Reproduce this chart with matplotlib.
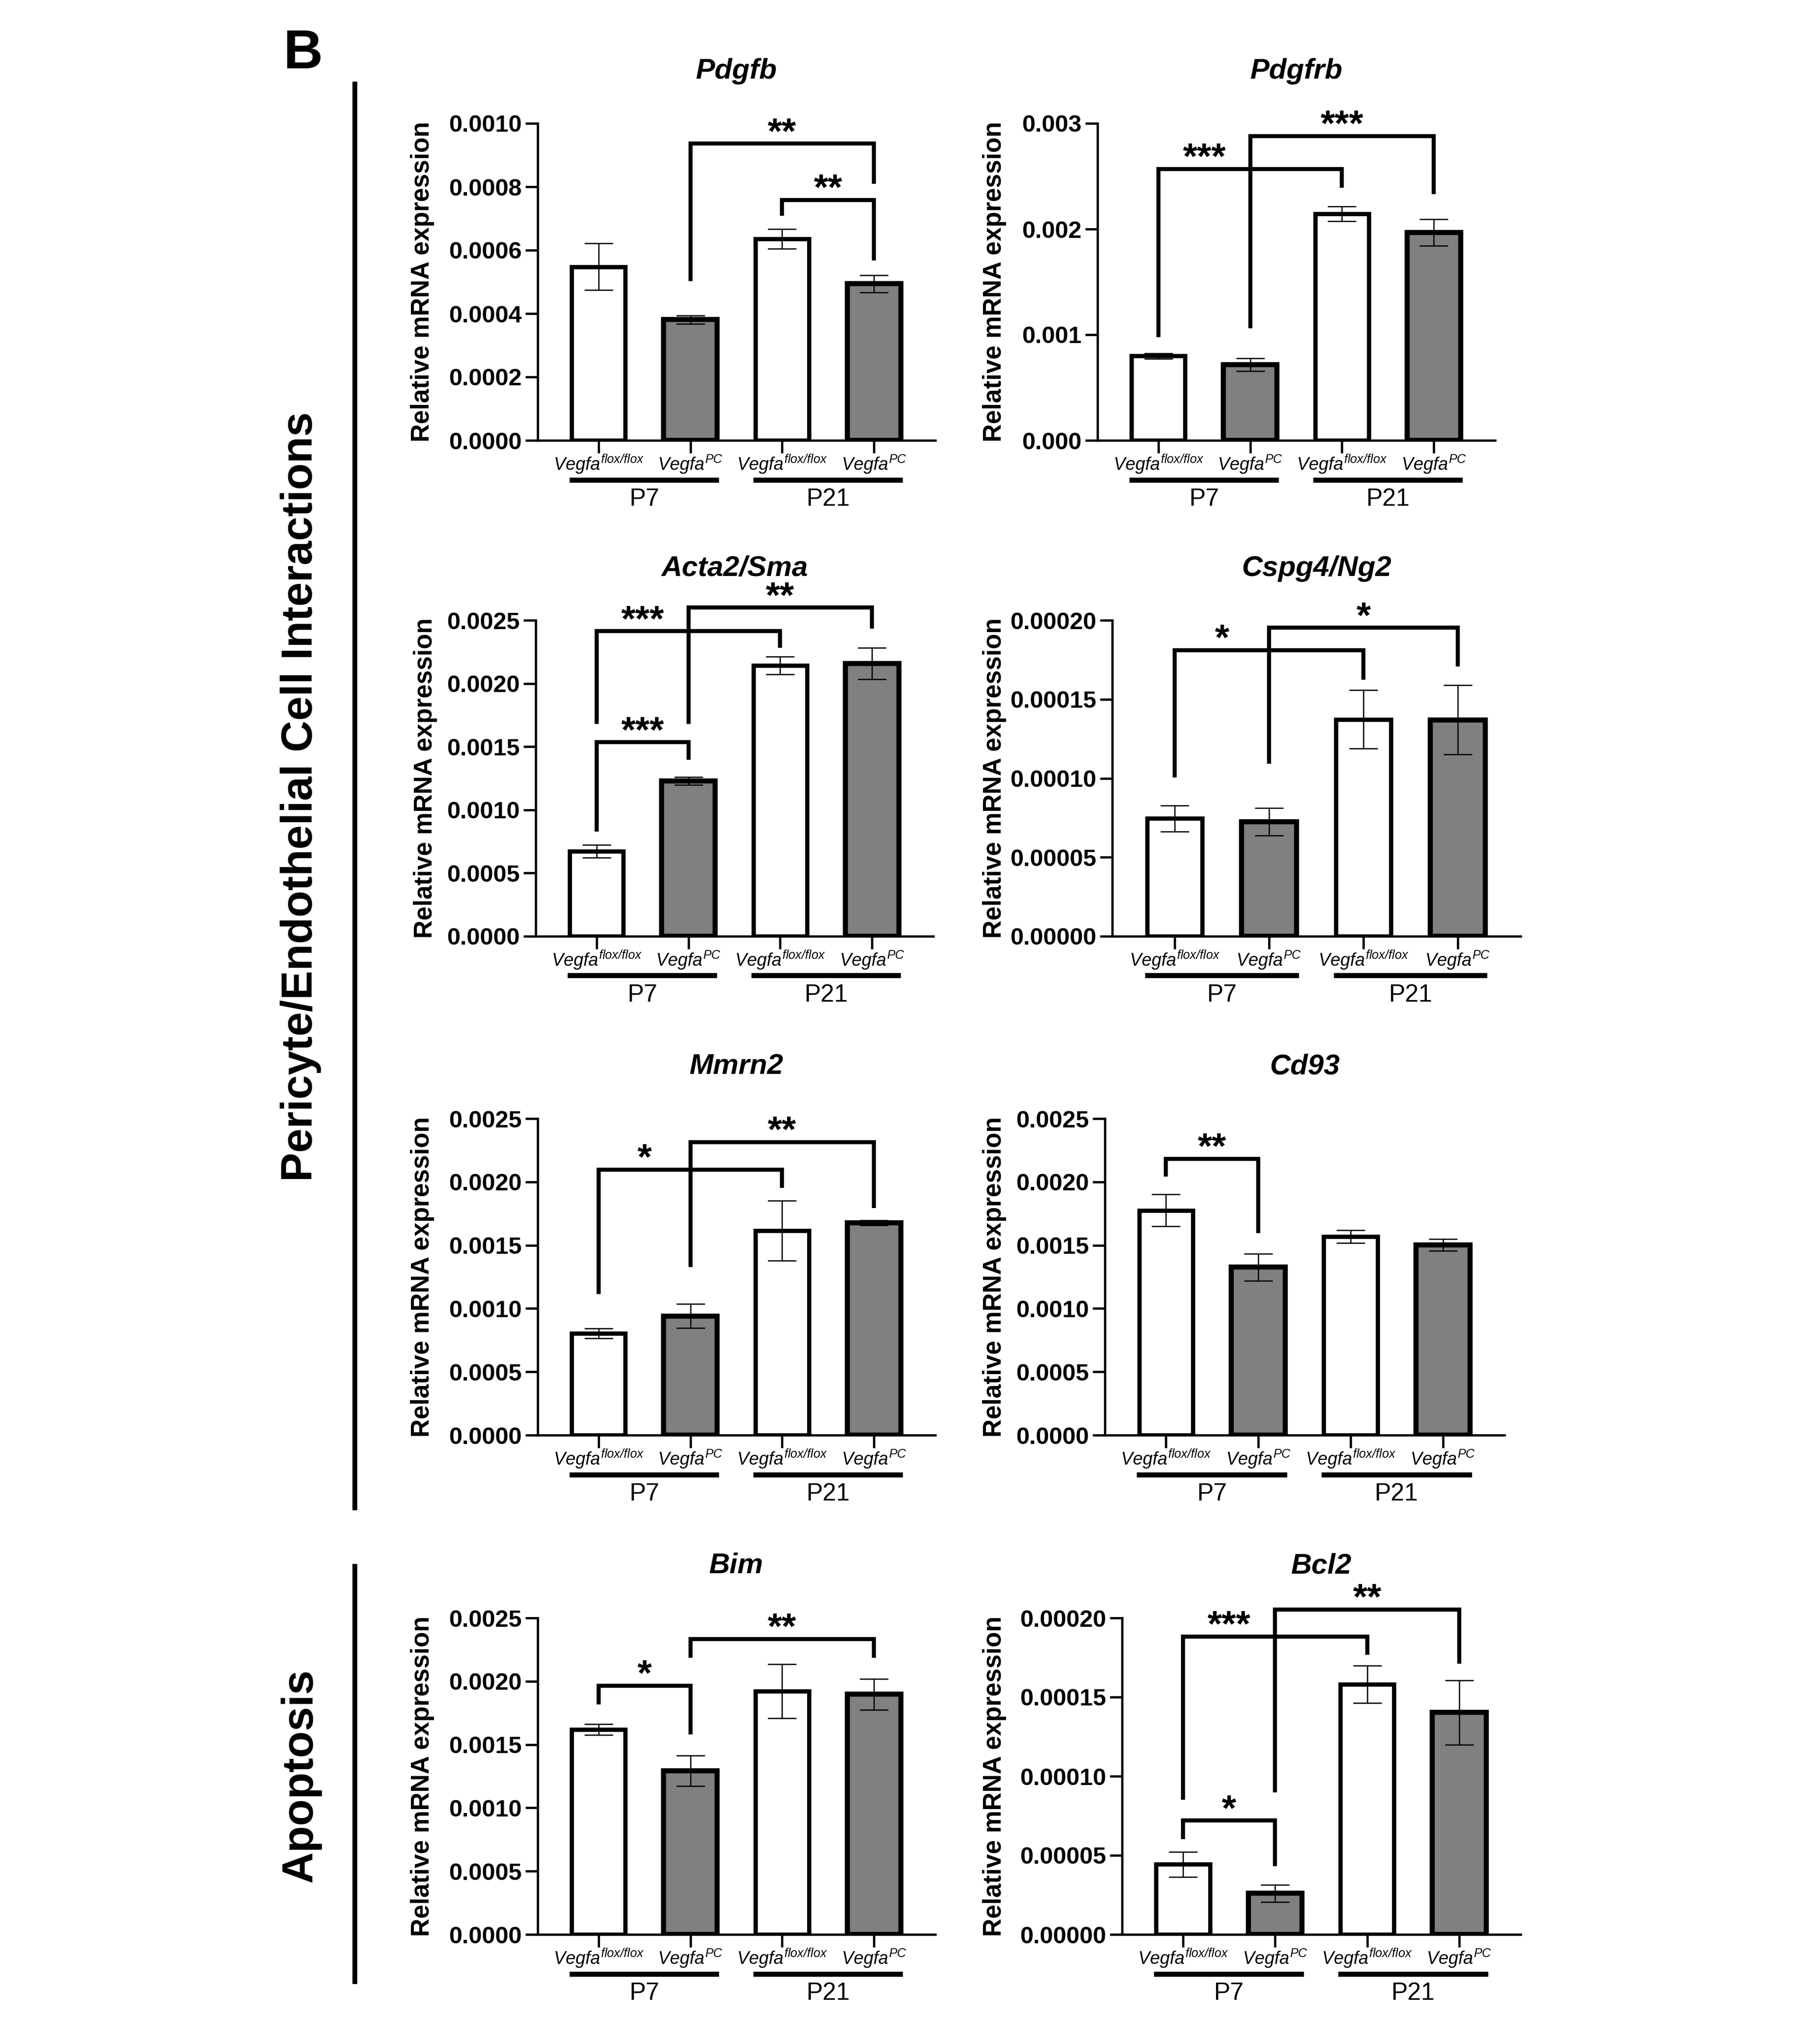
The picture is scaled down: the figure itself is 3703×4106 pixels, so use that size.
import numpy as np
import matplotlib
matplotlib.use("Agg")
import matplotlib.pyplot as plt
from matplotlib.lines import Line2D

plt.rcParams['font.family'] = ['Liberation Sans', 'DejaVu Sans']
plt.rcParams['mathtext.fontset'] = 'custom'
plt.rcParams['mathtext.it'] = 'Liberation Sans:italic'
plt.rcParams['mathtext.rm'] = 'Liberation Sans:italic'
plt.rcParams['mathtext.bf'] = 'Liberation Sans:bold'

# ---------------------------------------------------------------
# Data (mean, error, significance brackets)
# bracket: (bar_a, bar_b, top, leg_a_end, leg_b_end, stars)
# ---------------------------------------------------------------

genotypes = [r'$Vegfa^{flox/flox}$', r'$Vegfa^{PC}$',
             r'$Vegfa^{flox/flox}$', r'$Vegfa^{PC}$']
ages = ['P7', 'P21']
bar_colors = ['white', '#808080', 'white', '#808080']

pdgfb_mean = [0.000548, 0.000381, 0.000636, 0.000494]
pdgfb_err = [0.000074, 0.000013, 0.000031, 0.000027]
pdgfb_sig = [(1, 3, 0.000936, 0.000502, 0.000810, '**'),
             (2, 3, 0.000758, 0.000708, 0.000568, '**')]

pdgfrb_mean = [0.000798, 0.000715, 0.002143, 0.001968]
pdgfrb_err = [0.000026, 0.000060, 0.000070, 0.000125]
pdgfrb_sig = [(0, 2, 0.002568, 0.000979, 0.002390, '***'),
              (1, 3, 0.002881, 0.001062, 0.002331, '***')]

acta2_mean = [0.000674, 0.001228, 0.002141, 0.002158]
acta2_err = [0.000050, 0.000030, 0.000070, 0.000125]
acta2_sig = [(0, 1, 0.001534, 0.000828, 0.001397, '***'),
             (0, 2, 0.002413, 0.001679, 0.002283, '***'),
             (1, 3, 0.002600, 0.001679, 0.002433, '**')]

cspg4_mean = [0.0000746, 0.0000725, 0.0001373, 0.0001370]
cspg4_err = [0.0000082, 0.0000087, 0.0000186, 0.0000220]
cspg4_sig = [(0, 2, 0.0001810, 0.0001006, 0.0001623, '*'),
             (1, 3, 0.0001952, 0.0001092, 0.0001707, '*')]

mmrn2_mean = [0.000803, 0.000941, 0.001614, 0.001677]
mmrn2_err = [0.000038, 0.000095, 0.000237, 0.000020]
mmrn2_sig = [(0, 2, 0.002096, 0.001115, 0.001951, '*'),
             (1, 3, 0.002313, 0.001327, 0.001794, '**')]

cd93_mean = [0.001776, 0.001327, 0.001569, 0.001502]
cd93_err = [0.000125, 0.000107, 0.000050, 0.000045]
cd93_sig = [(0, 1, 0.002181, 0.002043, 0.001594, '**')]

bim_mean = [0.001618, 0.001293, 0.001921, 0.001897]
bim_err = [0.000042, 0.000120, 0.000214, 0.000123]
bim_sig = [(0, 1, 0.001966, 0.001815, 0.001581, '*'),
           (1, 3, 0.002333, 0.002185, 0.002185, '**')]

bcl2_mean = [0.0000443, 0.0000260, 0.0001580, 0.0001403]
bcl2_err = [0.0000079, 0.0000055, 0.0000118, 0.0000203]
bcl2_sig = [(0, 1, 0.0000719, 0.0000601, 0.0000433, '*'),
            (0, 2, 0.0001882, 0.0000851, 0.0001768, '***'),
            (1, 3, 0.0002053, 0.0000897, 0.0001710, '**')]

titles = ['Pdgfb', 'Pdgfrb', 'Acta2/Sma', 'Cspg4/Ng2',
          'Mmrn2', 'Cd93', 'Bim', 'Bcl2']
y_max = [0.0010, 0.003, 0.0025, 0.00020, 0.0025, 0.0025, 0.0025, 0.00020]
y_step = [0.0002, 0.001, 0.0005, 0.00005, 0.0005, 0.0005, 0.0005, 0.00005]
y_decimals = [4, 3, 4, 5, 4, 4, 4, 5]

# ---------------------------------------------------------------
# Layout (pixels of the 3703 x 4106 canvas)
# ---------------------------------------------------------------

W, H = 3703, 4106
DPI = 100

# left, right, top, bottom of each axes box, and y-label offset
boxes = [(1094, 1903, 251, 896), (2233, 3042, 251, 896),
         (1090, 1899, 1262, 1905), (2263, 3094, 1262, 1905),
         (1094, 1903, 2276, 2920), (2248, 3061, 2276, 2920),
         (1094, 1903, 3292, 3936), (2283, 3094, 3292, 3936)]
ylab_off = [234, 209, 224, 239, 234, 224, 234, 259]


def star_x(a, c, sig):
    # a bracket that is crossed by the leg of another bracket gets
    # its label between its own left leg and the crossing leg
    cross = [s[0] for s in sig if a < s[0] < c and s[1] > c]
    if cross:
        return (a + min(cross)) / 2
    return (a + c) / 2


def draw_panel(fig, box, yoff, title, mean, err, sig, ymax, ystep, ndec):
    l, r, t, b = box
    ax = fig.add_axes([l / W, 1 - b / H, (r - l) / W, (b - t) / H])
    x = np.arange(4)

    for i in range(4):
        lw = 6.2 if bar_colors[i] == 'white' else 7.5
        ax.bar(x[i], mean[i], width=0.585, color=bar_colors[i],
               edgecolor='black', linewidth=lw, zorder=2)
    ax.errorbar(x, mean, yerr=err, fmt='none', ecolor='black',
                elinewidth=1.8, capsize=21, capthick=1.8, zorder=3)

    for (a, c, top, ea, ec, stars) in sig:
        ax.plot([a, a, c, c], [ea, top, top, ec], color='black', lw=6,
                solid_joinstyle='miter', solid_capstyle='butt',
                clip_on=False, zorder=4)
        ax.annotate(stars, xy=(star_x(a, c, sig), top), xytext=(0, 1),
                    textcoords='offset points', ha='center', va='baseline',
                    fontsize=54, fontweight='bold', annotation_clip=False)

    ax.set_xlim(-0.663, 3.668)
    ax.set_ylim(0, ymax)
    ticks = np.arange(0, ymax + ystep / 2, ystep)
    ax.set_yticks(ticks)
    ax.set_yticklabels([f"{v:.{ndec}f}" for v in ticks],
                       fontsize=35, fontweight='bold')
    ax.set_xticks(x)
    ax.set_xticklabels(genotypes, fontsize=26)

    for s in ['top', 'right']:
        ax.spines[s].set_visible(False)
    for s in ['left', 'bottom']:
        ax.spines[s].set_linewidth(3.3)
    ax.tick_params(axis='y', length=18, width=3.3, pad=5)
    ax.tick_params(axis='x', length=19, width=3.3, pad=0)

    ax.text(0.5, 1.164, title, transform=ax.transAxes, ha='center',
            va='center', fontsize=42, fontweight='bold', style='italic')
    ax.text(-yoff / (r - l), 0.5, 'Relative mRNA expression',
            transform=ax.transAxes, rotation=90, ha='center', va='center',
            fontsize=37, fontweight='bold')

    # group underlines with age labels
    trans = ax.get_xaxis_transform()
    for g in range(2):
        x0 = 2 * g - 0.315
        x1 = 2 * g + 1 + 0.315
        ax.plot([x0, x1], [-0.125, -0.125], transform=trans, color='black',
                lw=7.5, solid_capstyle='butt', clip_on=False)
        ax.text(2 * g + 0.5, -0.186, ages[g], transform=trans, ha='center',
                va='center', fontsize=36)
    return ax


def main():
    fig = plt.figure(figsize=(W / DPI, H / DPI), dpi=DPI)

    means = [pdgfb_mean, pdgfrb_mean, acta2_mean, cspg4_mean,
             mmrn2_mean, cd93_mean, bim_mean, bcl2_mean]
    errs = [pdgfb_err, pdgfrb_err, acta2_err, cspg4_err,
            mmrn2_err, cd93_err, bim_err, bcl2_err]
    sigs = [pdgfb_sig, pdgfrb_sig, acta2_sig, cspg4_sig,
            mmrn2_sig, cd93_sig, bim_sig, bcl2_sig]

    for k in range(8):
        draw_panel(fig, boxes[k], ylab_off[k], titles[k], means[k], errs[k],
                   sigs[k], y_max[k], y_step[k], y_decimals[k])

    # panel letter, section bars and section labels
    fig.text(617 / W, 1 - 110 / H, 'B', ha='center', va='center',
             fontsize=80, fontweight='bold')
    fig.add_artist(Line2D([722 / W, 722 / W], [1 - 171 / H, 1 - 3068 / H],
                          transform=fig.transFigure, color='black', lw=7))
    fig.add_artist(Line2D([722 / W, 722 / W], [1 - 3187 / H, 1 - 4032 / H],
                          transform=fig.transFigure, color='black', lw=7))
    fig.text(612 / W, 1 - 1621 / H, 'Pericyte/Endothelial Cell Interactions',
             rotation=90, ha='center', va='center', fontsize=64,
             fontweight='bold')
    fig.text(612 / W, 1 - 3612 / H, 'Apoptosis', rotation=90, ha='center',
             va='center', fontsize=64, fontweight='bold')

    fig.savefig('out.png', dpi=DPI, facecolor='white')


if __name__ == "__main__":
    main()
